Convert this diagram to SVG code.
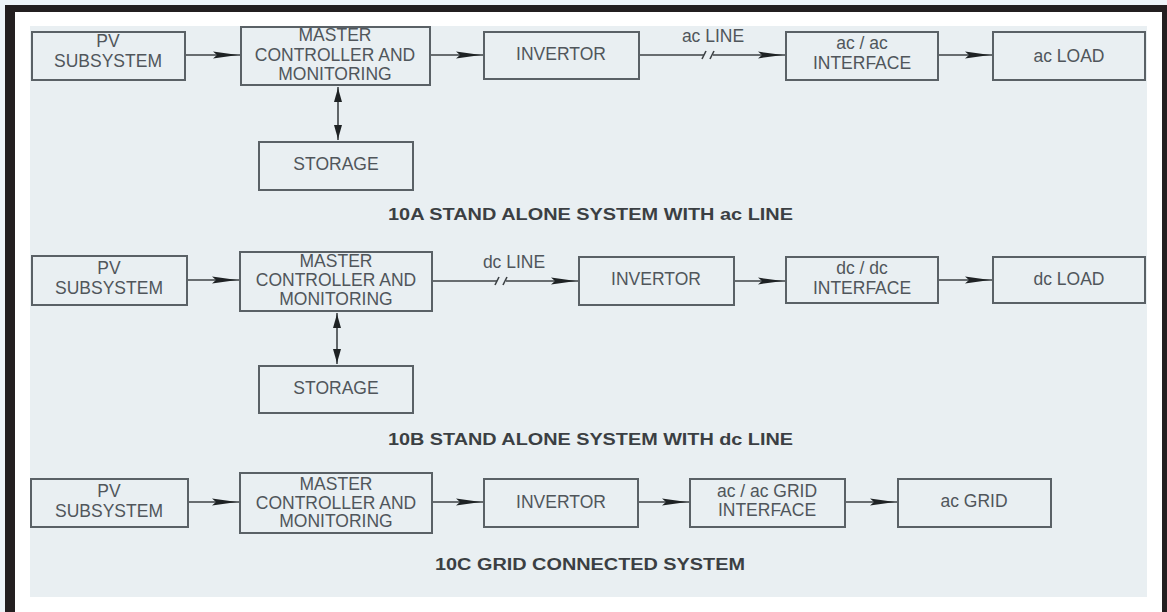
<svg xmlns="http://www.w3.org/2000/svg" width="1167" height="612" viewBox="0 0 1167 612">
<style>
.box{fill:none;stroke:#5a6166;stroke-width:2}
.t{font-family:"Liberation Sans",Arial,sans-serif;font-size:17.5px;fill:#50565b;text-anchor:middle}
.cap{font-family:"Liberation Sans",Arial,sans-serif;font-size:16px;font-weight:bold;fill:#3b3f43}
.ln{stroke:#3d4245;stroke-width:1.6;fill:none}
.ha{marker-end:url(#ah)}
.va{marker-start:url(#av);marker-end:url(#av)}
</style>
<defs>
<marker id="ah" markerUnits="userSpaceOnUse" viewBox="0 0 28 8" markerWidth="28" markerHeight="8" refX="28" refY="4" orient="auto">
<path d="M0,0.6 L25,4 L0,7.4 L4,4 Z" fill="#1e2224"/>
</marker>
<marker id="av" markerUnits="userSpaceOnUse" viewBox="0 0 16 9" markerWidth="16" markerHeight="9" refX="15" refY="4.5" orient="auto-start-reverse">
<path d="M0,0.5 L14,4.5 L0,8.5 Z" fill="#1e2224"/>
</marker>
</defs>
<rect x="0" y="0" width="1167" height="612" fill="#ffffff"/>
<rect x="0" y="0" width="1167" height="5" fill="#eef5f9"/>
<rect x="0" y="0" width="5" height="612" fill="#eef5f9"/>
<rect x="5" y="5" width="1162" height="7" fill="#231f20"/>
<rect x="5" y="5" width="10" height="607" fill="#231f20"/>
<rect x="1162" y="5" width="5" height="607" fill="#231f20"/>
<rect x="30" y="26" width="1117" height="571" fill="#e9eff2"/>

<g id="connectors">
<line class="ln ha" x1="185" y1="55" x2="241" y2="55"/>
<line class="ln ha" x1="430" y1="55" x2="484" y2="55"/>
<line class="ln" x1="639" y1="55" x2="704" y2="55"/>
<line class="ln ha" x1="713" y1="55" x2="786" y2="55"/>
<path class="ln" d="M702,59 L706,51 M710,59 L714,51"/>
<line class="ln ha" x1="938" y1="55" x2="993" y2="55"/>
<line class="ln va" x1="338" y1="87" x2="338" y2="140"/>

<line class="ln ha" x1="187" y1="280" x2="240" y2="280"/>
<line class="ln" x1="432" y1="281" x2="497" y2="281"/>
<line class="ln ha" x1="506" y1="281" x2="579" y2="281"/>
<path class="ln" d="M495,285 L499,277 M503,285 L507,277"/>
<line class="ln ha" x1="734" y1="281" x2="786" y2="281"/>
<line class="ln ha" x1="938" y1="280" x2="993" y2="280"/>
<line class="ln va" x1="337" y1="313" x2="337" y2="364"/>

<line class="ln ha" x1="188" y1="502" x2="240" y2="502"/>
<line class="ln ha" x1="432" y1="502" x2="484" y2="502"/>
<line class="ln ha" x1="638" y1="502" x2="690" y2="502"/>
<line class="ln ha" x1="845" y1="502" x2="898" y2="502"/>
</g>

<text class="t" x="713" y="42">ac LINE</text>
<text class="t" x="514" y="268">dc LINE</text>

<g id="a-pv"><rect class="box" x="32" y="32" width="153" height="48"/><text class="t" x="108" y="47">PV</text><text class="t" x="108" y="67">SUBSYSTEM</text></g>
<g id="a-master"><rect class="box" x="241" y="27" width="189" height="58"/><text class="t" x="335" y="41">MASTER</text><text class="t" x="335" y="61">CONTROLLER AND</text><text class="t" x="335" y="80">MONITORING</text></g>
<g id="a-storage"><rect class="box" x="259" y="142" width="154" height="48"/><text class="t" x="336" y="170">STORAGE</text></g>
<g id="a-inv"><rect class="box" x="484" y="32" width="155" height="47"/><text class="t" x="561" y="60">INVERTOR</text></g>
<g id="a-int"><rect class="box" x="786" y="32" width="152" height="48"/><text class="t" x="862" y="49">ac / ac</text><text class="t" x="862" y="69">INTERFACE</text></g>
<g id="a-load"><rect class="box" x="993" y="32" width="152" height="48"/><text class="t" x="1069" y="62">ac LOAD</text></g>
<text class="cap" x="388" y="220" textLength="405" lengthAdjust="spacingAndGlyphs">10A STAND ALONE SYSTEM WITH ac LINE</text>

<g id="b-pv"><rect class="box" x="32" y="256" width="155" height="49"/><text class="t" x="109" y="274">PV</text><text class="t" x="109" y="294">SUBSYSTEM</text></g>
<g id="b-master"><rect class="box" x="240" y="252" width="192" height="59"/><text class="t" x="336" y="267">MASTER</text><text class="t" x="336" y="286">CONTROLLER AND</text><text class="t" x="336" y="305">MONITORING</text></g>
<g id="b-storage"><rect class="box" x="259" y="366" width="154" height="47"/><text class="t" x="336" y="394">STORAGE</text></g>
<g id="b-inv"><rect class="box" x="579" y="257" width="155" height="48"/><text class="t" x="656" y="285">INVERTOR</text></g>
<g id="b-int"><rect class="box" x="786" y="257" width="152" height="46"/><text class="t" x="862" y="274">dc / dc</text><text class="t" x="862" y="294">INTERFACE</text></g>
<g id="b-load"><rect class="box" x="993" y="257" width="152" height="46"/><text class="t" x="1069" y="285">dc LOAD</text></g>
<text class="cap" x="388" y="445" textLength="405" lengthAdjust="spacingAndGlyphs">10B STAND ALONE SYSTEM WITH dc LINE</text>

<g id="c-pv"><rect class="box" x="31" y="479" width="157" height="48"/><text class="t" x="109" y="497">PV</text><text class="t" x="109" y="517">SUBSYSTEM</text></g>
<g id="c-master"><rect class="box" x="240" y="473" width="192" height="60"/><text class="t" x="336" y="490">MASTER</text><text class="t" x="336" y="509">CONTROLLER AND</text><text class="t" x="336" y="527">MONITORING</text></g>
<g id="c-inv"><rect class="box" x="484" y="479" width="154" height="48"/><text class="t" x="561" y="508">INVERTOR</text></g>
<g id="c-int"><rect class="box" x="690" y="479" width="155" height="48"/><text class="t" x="767" y="497">ac / ac GRID</text><text class="t" x="767" y="516">INTERFACE</text></g>
<g id="c-grid"><rect class="box" x="898" y="479" width="153" height="48"/><text class="t" x="974" y="507">ac GRID</text></g>
<text class="cap" x="435" y="570" textLength="310" lengthAdjust="spacingAndGlyphs">10C GRID CONNECTED SYSTEM</text>
</svg>
